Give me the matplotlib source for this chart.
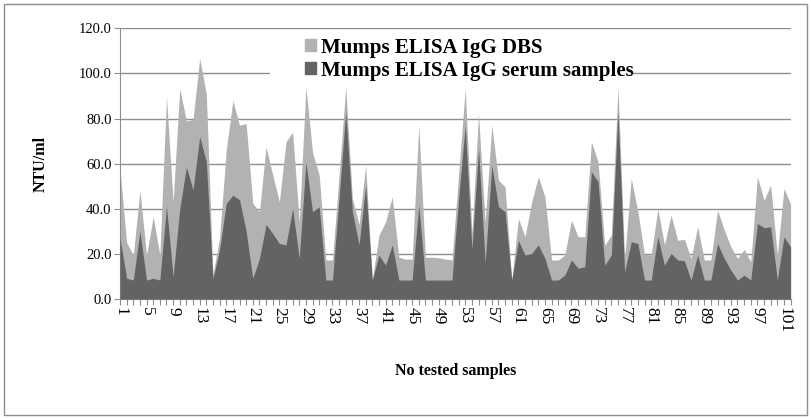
import numpy as np
import matplotlib.pyplot as plt
from matplotlib.patches import Patch, Rectangle

# values (NTU/ml), samples 1..102
dbs = [57, 25, 19.5, 48, 19.5, 36.5, 19.5, 89.6, 43, 93.3,
       79, 79.5, 106.6, 91, 11, 27, 66, 88, 77, 77.8,
       42.4, 38.7, 67.5, 55, 43, 69.7, 74, 34, 94, 65,
       55, 17.3, 17.3, 55, 94, 44.6, 33, 59.3, 8.4, 28.3,
       34.2, 45.3, 18.5, 17.7, 17.7, 77, 18.5, 18.5, 18.3, 17.7,
       17.3, 55, 93.3, 29, 82, 34, 77, 52.7, 49.7, 8.4,
       35.7, 27.6, 43, 54.2, 45.3, 17.3, 17.3, 19.5, 35, 27.6,
       27.6, 69.7, 60.8, 23.9, 28.3, 94, 18, 53.4, 38.7, 19.8,
       19.5, 40, 24, 37.2, 26, 26.5, 18, 32, 17.3, 17.3,
       39.4, 30.6, 23.2, 18, 22, 16.5, 54.2, 43.8, 50.5, 19.5,
       49, 42]
serum = [27, 9.2, 8.4, 30, 8.4, 9.2, 8.4, 41, 10, 40,
         58.6, 48.3, 72, 60.8, 9, 22, 42.4, 46, 44, 30,
         9.2, 18, 33, 29, 24.6, 24, 40, 18, 60.5, 38.7,
         40.9, 8.4, 8.4, 45, 83, 38.7, 24, 50.5, 8.4, 19.5,
         15, 24, 8.4, 8.4, 8.4, 41.6, 8.4, 8.4, 8.4, 8.4,
         8.4, 44.6, 77, 22, 66.7, 16, 59.3, 41, 38.7, 8.4,
         26, 19.5, 20.2, 24, 18, 8.4, 8.4, 10.6, 17.3, 13.6,
         14.3, 56.4, 52, 15, 19.5, 83, 12, 25.4, 24.6, 8.4,
         8.4, 27.6, 15, 20.2, 17.3, 17, 8.4, 19.5, 8.4, 8.4,
         24.6, 18, 12.8, 8.4, 10.6, 8.4, 33.5, 31.6, 32, 8.4,
         27.6, 23]
series_names = ['Mumps ELISA IgG DBS', 'Mumps ELISA IgG serum samples']
yticks = [0, 20, 40, 60, 80, 100, 120]

light = '#b2b2b2'
dark = '#636363'
grid_c = '#8e8e8e'

plt.rcParams['font.family'] = ['Liberation Serif', 'DejaVu Serif']

x = np.arange(1, len(dbs) + 1)

fig = plt.figure(figsize=(8.12, 4.18), dpi=100)
ax = fig.add_axes([120/812, 1 - 299/418, 670.6/812, 270.7/418])

ax.fill_between(x, 0, dbs, color=light, lw=0, zorder=2)
ax.fill_between(x, 0, serum, color=dark, lw=0, zorder=3)

ax.set_xlim(1, len(dbs))
ax.set_ylim(0, 120)
ax.set_yticks(yticks)
ax.set_yticklabels(['%.1f' % v for v in yticks], fontsize=10.5)
ax.set_xticks(x)
ax.set_xticklabels([str(i) if (i - 1) % 4 == 0 else '' for i in x],
                   rotation=-90, fontsize=12.5)
ax.tick_params(axis='x', length=4, color=grid_c, pad=2)
ax.tick_params(axis='y', length=4, color=grid_c, pad=2)

ax.set_axisbelow(True)
ax.yaxis.grid(True, color=grid_c, lw=1)
for s in ['top', 'right']:
    ax.spines[s].set_visible(False)
for s in ['left', 'bottom']:
    ax.spines[s].set_color(grid_c)

ax.set_ylabel('NTU/ml', fontsize=11.5, fontweight='bold', labelpad=22)
ax.set_xlabel('No tested samples', fontsize=11.5, fontweight='bold', labelpad=21)

# white legend box hiding the gridline under it
ax.add_patch(Rectangle(((270 - 120)/670.6, (299 - 86)/270.7), 363/670.6, 54/270.7,
                       transform=ax.transAxes, facecolor='white', edgecolor='none',
                       zorder=1.5))
handles = [Patch(color=light), Patch(color=dark)]
ax.legend(handles, series_names, loc='upper left',
          bbox_to_anchor=((293 - 120)/670.6, 1.012), frameon=False,
          prop={'weight': 'bold', 'size': 15}, handlelength=0.5, handleheight=0.5,
          handletextpad=0.25, labelspacing=0.15, borderaxespad=0.2)

# outer chart border
fig.patches.append(Rectangle((4/812, 3/418), 803/812, 411/418, transform=fig.transFigure,
                             fill=False, edgecolor='#8e8e8e', lw=1))

fig.savefig('out.png', dpi=100)
